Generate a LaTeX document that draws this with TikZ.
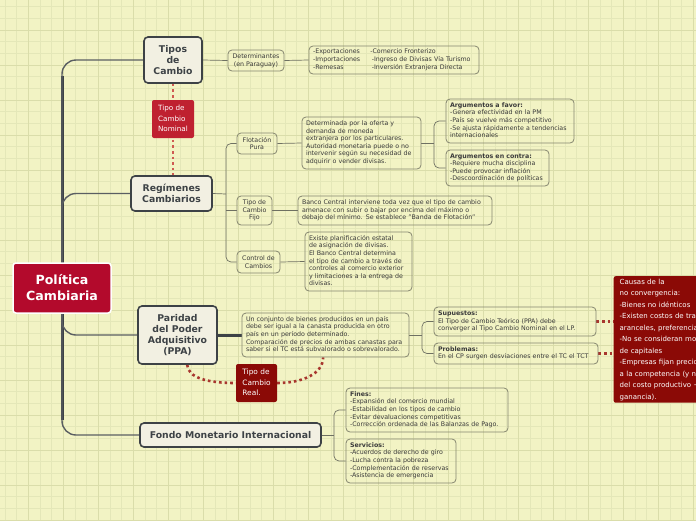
\documentclass[tikz,border=0pt]{standalone}
\usepackage{fontspec}
\setmainfont{DejaVu Sans}
\definecolor{bgc}{HTML}{F2F3C4}
\definecolor{gminc}{HTML}{E4E7B8}
\definecolor{gmajc}{HTML}{DADDAA}
\definecolor{mainred}{HTML}{B30A2C}
\definecolor{nomred}{HTML}{BF2130}
\definecolor{darkred}{HTML}{8B0A06}
\definecolor{topc}{HTML}{3D4246}
\definecolor{topfill}{HTML}{F2F0E2}
\definecolor{boxc}{HTML}{85866F}
\definecolor{txtc}{HTML}{3A3A3A}
\definecolor{connc}{HTML}{6E7062}
\definecolor{dotc}{HTML}{CF5A52}
\definecolor{rdotc}{HTML}{A8362E}
\newcommand{\mylines}[1]{\begin{tabular}{@{}l@{}}#1\end{tabular}}
\pgfdeclarelayer{gridlayer}
\pgfdeclarelayer{connlayer}
\pgfsetlayers{gridlayer,connlayer,main}
\tikzset{
  mainnode/.style={fill=mainred, draw=white, line width=1.5pt, rounded corners=3pt, text=white,
    font=\bfseries\fontsize{12.6}{16}\selectfont, align=center, inner sep=0pt},
  topic/.style={draw=topc, fill=topfill, line width=1.6pt, rounded corners=4pt, text=topc,
    font=\bfseries\fontsize{9.3}{11}\selectfont, align=center, inner sep=0pt},
  subbox/.style={draw=boxc, line width=0.8pt, rounded corners=4pt, text=txtc,
    font=\fontsize{6.3}{7.6}\selectfont, align=left, inner xsep=4pt, inner ysep=0pt},
  subc/.style={draw=boxc, line width=0.8pt, rounded corners=4pt, text=txtc,
    font=\fontsize{6.3}{7.9}\selectfont, align=center, inner sep=0pt},
  nomlabel/.style={fill=nomred, rounded corners=2pt, text=white,
    font=\fontsize{7.2}{10.5}\selectfont, align=left, inner xsep=4pt, inner ysep=0pt},
  reallabel/.style={fill=darkred, rounded corners=2pt, text=white,
    font=\fontsize{7.4}{10.5}\selectfont, align=left, inner xsep=5pt, inner ysep=0pt},
  causesbox/.style={fill=darkred, rounded corners=2pt, text=white,
    font=\fontsize{7}{11.5}\selectfont, align=left, inner xsep=6pt, inner ysep=0pt},
  conn/.style={draw=connc, line width=0.7pt},
  trunk/.style={draw=topc, line width=3pt},
  branch/.style={draw=topc!85, line width=1.4pt, rounded corners=14pt},
  thickconn/.style={draw=topc, line width=3pt},
  nomdot/.style={draw=dotc, line width=2.6pt, dash pattern=on 2.6pt off 3pt},
  realdot/.style={draw=rdotc, line width=2.6pt, dash pattern=on 2.6pt off 3pt},
  gminor/.style={draw=gminc, line width=0.8pt},
  gmajor/.style={draw=gmajc, line width=1pt}
}
\begin{document}
\begin{tikzpicture}[x=1pt,y=-1pt]
\useasboundingbox (0,0) rectangle (696,520);
\clip (0,0) rectangle (696,520);
\begin{pgfonlayer}{gridlayer}
\fill[bgc] (0,0) rectangle (696,520);
\foreach \k in {0,...,59} {\draw[gminor] ({5+\k*11.667},0) -- ({5+\k*11.667},520);}
\foreach \k in {0,...,44} {\draw[gminor] (0,{6.67+\k*11.667}) -- (696,{6.67+\k*11.667});}
\foreach \k in {0,...,19} {\draw[gmajor] ({28.33+\k*35},0) -- ({28.33+\k*35},520);}
\foreach \k in {0,...,14} {\draw[gmajor] (0,{30+\k*35}) -- (696,{30+\k*35});}
\end{pgfonlayer}

% central node
\node[mainnode, minimum width=98, minimum height=50] (main) at (62,288) {Política\\Cambiaria};
\coordinate (ttop) at (62,76);
\coordinate (tbot) at (62,420);

% topics
\node[topic, minimum width=58, minimum height=46] (tipos) at (173,60) {Tipos\\de\\Cambio};
\node[topic, minimum width=81, minimum height=35] (reg) at (171.5,193.5) {Regímenes\\Cambiarios};
\node[topic, minimum width=79, minimum height=58] (ppa) at (177.5,335) {Paridad\\del Poder\\Adquisitivo\\(PPA)};
\node[topic, minimum width=181, minimum height=24] (fmi) at (230.5,435) {Fondo Monetario Internacional};

% labels
\node[nomlabel, minimum width=42, minimum height=38] (nom) at (173,119) {\mylines{Tipo de\\Cambio\\Nominal}};
\node[reallabel, minimum width=41, minimum height=38] (real) at (256.5,383) {\mylines{Tipo de\\Cambio\\Real.}};
\node[causesbox, anchor=north west, minimum height=121, text width=160] (causes) at (613.5,276) {\mylines{Causas de la\\no convergencia:\\-Bienes no idénticos\\-Existen costos de transporte,\\aranceles, preferencias\\-No se consideran movimientos\\de capitales\\-Empresas fijan precios según\\a la competencia (y no en base\\del costo productivo + margen de\\ganancia).}};

% sub boxes: Tipos de cambio
\node[subc, minimum width=56, minimum height=21] (det) at (256,60.5) {Determinantes\\(en Paraguay)};
\node[subbox, minimum height=28, text width=162] (exp) at (394,60) {\begin{tabular}{@{}l@{\hspace{10pt}}l@{}}-Exportaciones & -Comercio Fronterizo\\-Importaciones & \hspace{1.5pt}-Ingreso de Divisas Vía Turismo\\-Remesas & \hspace{1.5pt}-Inversión Extranjera Directa\end{tabular}};

% Regimenes
\node[subc, minimum width=40, minimum height=21] (flot) at (257,143.5) {Flotación\\Pura};
\node[subbox, minimum height=52, text width=111] (flotd) at (361.5,143) {\mylines{Determinada por la oferta y\\demanda de moneda\\extranjera por los particulares.\\Autoridad monetaria puede o no\\intervenir según su necesidad de\\adquirir o vender divisas.}};
\node[subbox, minimum height=44, text width=120] (argf) at (510,121) {\mylines{\textbf{Argumentos a favor:}\\-Genera efectividad en la PM\\-País se vuelve más competitivo\\-Se ajusta rápidamente a tendencias\\internacionales}};
\node[subbox, minimum height=36, text width=95] (argc) at (497.5,168) {\mylines{\textbf{Argumentos en contra:}\\-Requiere mucha disciplina\\-Puede provocar inflación\\-Descoordinación de políticas}};
\node[subc, minimum width=35, minimum height=29, font=\fontsize{6.3}{7.5}\selectfont] (fijo) at (254.5,210.5) {Tipo de\\Cambio\\Fijo};
\node[subbox, minimum height=29, text width=186] (fijod) at (395,210.5) {\mylines{Banco Central interviene toda vez que el tipo de cambio\\amenace con subir o bajar por encima del máximo o\\debajo del mínimo. Se establece "Banda de Flotación"}};
\node[subc, minimum width=43, minimum height=22] (ctrl) at (258.5,262) {Control de\\Cambios};
\node[subbox, minimum height=59, text width=99] (ctrld) at (358.5,261.5) {\mylines{Existe planificación estatal\\de asignación de divisas.\\El Banco Central determina\\el tipo de cambio a través de\\controles al comercio exterior\\y limitaciones a la entrega de\\divisas.}};

% PPA
\node[subbox, minimum height=44, text width=159] (ppad) at (325.5,335) {\mylines{Un conjunto de bienes producidos en un país\\debe ser igual a la canasta producida en otro\\país en un período determinado.\\Comparación de precios de ambas canastas para\\saber si el TC está subvalorado o sobrevalorado.}};
\node[subbox, minimum height=29, text width=154] (sup) at (515,321.5) {\mylines{\textbf{Supuestos:}\\El Tipo de Cambio Teórico (PPA) debe\\converger al Tipo Cambio Nominal en el LP.}};
\node[subbox, minimum height=21, text width=156] (prob) at (516,353.5) {\mylines{\textbf{Problemas:}\\En el CP surgen desviaciones entre el TC el TCT}};

% FMI
\node[subbox, minimum height=44, text width=154] (fines) at (427,410) {\mylines{\textbf{Fines:}\\-Expansión del comercio mundial\\-Estabilidad en los tipos de cambio\\-Evitar devaluaciones competitivas\\-Corrección ordenada de las Balanzas de Pago.}};
\node[subbox, minimum height=44, text width=102] (serv) at (401,461) {\mylines{\textbf{Servicios:}\\-Acuerdos de derecho de giro\\-Lucha contra la pobreza\\-Complementación de reservas\\-Asistencia de emergencia}};

\begin{pgfonlayer}{connlayer}
% trunk and branches
\draw[trunk] (ttop) -- (tbot);
\draw[branch] (main.north) -- (main.north |- tipos.west) -- (tipos.west);
\draw[branch] (main.north) -- (main.north |- reg.west) -- (reg.west);
\draw[branch] (main.south) -- (main.south |- ppa.west) -- (ppa.west);
\draw[branch] (main.south) -- (main.south |- fmi.west) -- (fmi.west);
% tipos
\draw[conn] (tipos.east) -- (det.west);
\draw[conn] (det.east) -- (exp.west);
% regimenes
\coordinate (rb) at (226,194);
\draw[conn] (reg.east) -- (rb);
\draw[conn, rounded corners=5pt] (flot.west) -- (flot.west -| rb) -- (ctrl.west -| rb) -- (ctrl.west);
\draw[conn] (fijo.west -| rb) -- (fijo.west);
\draw[conn] (flot.east) -- (flotd.west);
\draw[conn] (fijo.east) -- (fijod.west);
\draw[conn] (ctrl.east) -- (ctrld.west);
\coordinate (ab) at (434,143);
\draw[conn] (flotd.east) -- (ab);
\draw[conn, rounded corners=5pt] (argf.west) -- (argf.west -| ab) -- (argc.west -| ab) -- (argc.west);
% ppa
\draw[thickconn] (ppa.east) -- (ppad.west);
\coordinate (pb) at (422,335);
\draw[conn] (ppad.east) -- (pb);
\draw[conn, rounded corners=5pt] (sup.west) -- (sup.west -| pb) -- (prob.west -| pb) -- (prob.west);
% fmi
\coordinate (fb) at (334,435);
\draw[conn] (fmi.east) -- (fb);
\draw[conn, rounded corners=5pt] (fines.west) -- (fines.west -| fb) -- (serv.west -| fb) -- (serv.west);
% dotted relations
\draw[nomdot] (tipos.south) -- (tipos.south |- reg.north);
\draw[realdot] (ppa.-72) .. controls (188,378) and (208,383) .. (real.west);
\draw[realdot] (real.east) .. controls (302,383) and (323,374) .. (ppad.-96);
\draw[realdot] (sup.east) -- (sup.east -| causes.west);
\draw[realdot] (prob.east) -- (prob.east -| causes.west);
\end{pgfonlayer}
\end{tikzpicture}
\end{document}
